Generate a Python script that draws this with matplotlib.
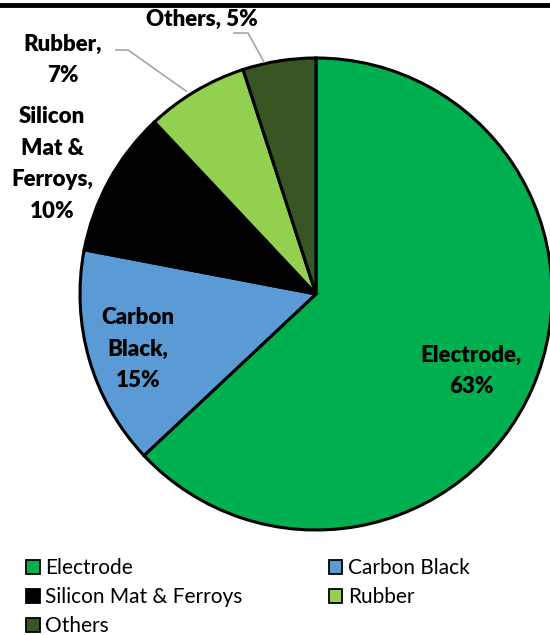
import matplotlib
matplotlib.use("Agg")
import matplotlib.pyplot as plt
from matplotlib.patches import Patch
from matplotlib.lines import Line2D

categories = ["Electrode", "Carbon Black", "Silicon Mat & Ferroys", "Rubber", "Others"]
values = [63, 15, 10, 7, 5]
label_texts = ["Electrode,\n63%", "Carbon\nBlack,\n15%", "Silicon\nMat &\nFerroys,\n10%", "Rubber,\n7%", "Others, 5%"]
colors = ["#00B050", "#5B9BD5", "#000000", "#92D050", "#375623"]

W, H = 550, 635
fig = plt.figure(figsize=(W / 100, H / 100), dpi=100)
plt.rcParams['font.family'] = ['Lato', 'DejaVu Sans']

def px(x, y):
    return x / W, 1 - y / H

cx, cy, r = 316, 294, 236
ax = fig.add_axes([(cx - r) / W, (H - cy - r) / H, 2 * r / W, 2 * r / H])
wedges, _ = ax.pie(values, colors=colors, startangle=90, counterclock=False,
                   wedgeprops=dict(edgecolor="black", linewidth=2.2))
ax.set_xlim(-1, 1)
ax.set_ylim(-1, 1)
ax.axis("off")
for w in wedges:
    w.set_clip_on(False)

# top border line
fig.add_artist(Line2D([0, 1], [1 - 5 / H, 1 - 5 / H], color="black", lw=3.5, transform=fig.transFigure))

# labels
pos = [(471, 371), (138, 349), (52, 164), (63, 60), (202, 19)]
for (x, y), t in zip(pos, label_texts):
    fx, fy = px(x, y)
    fig.text(fx, fy, t, ha="center", va="center", fontsize=16, fontweight="heavy",
             linespacing=1.62, color="black")

# leader lines
def leader(pts):
    xs = [p[0] / W for p in pts]
    ys = [1 - p[1] / H for p in pts]
    fig.add_artist(Line2D(xs, ys, color="#A6A6A6", lw=1.2, transform=fig.transFigure))

leader([(116, 50), (128, 50), (186, 91)])
leader([(234, 33), (248, 33), (264, 62)])

order = [0, 2, 4, 1, 3]
handles = [Patch(facecolor=colors[i], edgecolor="black", linewidth=1.3) for i in order]
labels = [categories[i] for i in order]
fig.legend(handles, labels, ncol=2, loc="upper left", bbox_to_anchor=(18 / W, 1 - 550 / H),
           frameon=False, fontsize=15, handlelength=0.65, handleheight=0.65,
           handletextpad=0.25, columnspacing=4.15, labelspacing=0.43, borderaxespad=0)

fig.savefig("out.png", dpi=100)
